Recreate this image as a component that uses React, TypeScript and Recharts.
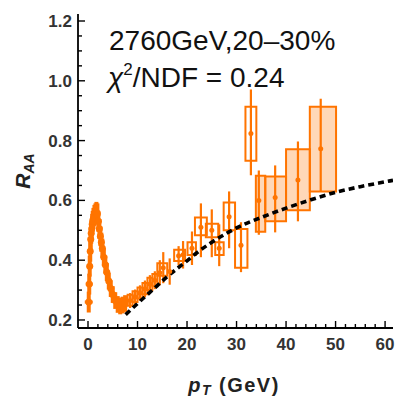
import {
  ComposedChart,
  Line,
  Scatter,
  ErrorBar,
  XAxis,
  YAxis,
  ReferenceArea,
} from "recharts";

const ORANGE = "#ff7400";
const FONT = "'Liberation Sans', Arial, sans-serif";

// axis ticks (major + minor)
const X_TICKS = [0, 2, 4, 6, 8, 10, 12, 14, 16, 18, 20, 22, 24, 26, 28, 30, 32, 34, 36, 38, 40, 42, 44, 46, 48, 50, 52, 54, 56, 58, 60];
const Y_TICKS = [0.2, 0.25, 0.3, 0.35, 0.4, 0.45, 0.5, 0.55, 0.6, 0.65, 0.7, 0.75, 0.8, 0.85, 0.9, 0.95, 1.0, 1.05, 1.1, 1.15, 1.2];

// model curve (dashed)
const modelPt = [7.6, 10, 12, 14, 16, 18, 20, 22, 25, 28, 30, 35, 40, 45, 50, 55, 60, 61.6];
const modelRaa = [0.218, 0.255, 0.285, 0.315, 0.345, 0.372, 0.398, 0.425, 0.46, 0.49, 0.508, 0.543, 0.574, 0.602, 0.627, 0.646, 0.662, 0.667];

// low pT measurements
const lowPt = [0.15, 0.25, 0.35, 0.45, 0.55, 0.65, 0.75, 0.85, 0.95, 1.1, 1.3, 1.5, 1.7, 1.9, 2.1, 2.3, 2.5, 2.7, 2.9, 3.2, 3.5, 3.8, 4.2, 4.6, 5.0, 5.5, 6.0, 6.5, 7.0, 7.5];
const lowRaa = [0.26, 0.32, 0.38, 0.43, 0.47, 0.49, 0.505, 0.52, 0.53, 0.54, 0.55, 0.555, 0.56, 0.555, 0.53, 0.505, 0.48, 0.46, 0.44, 0.41, 0.385, 0.36, 0.33, 0.305, 0.285, 0.265, 0.252, 0.247, 0.25, 0.255];
const lowErr = [0.035, 0.035, 0.035, 0.035, 0.035, 0.035, 0.035, 0.035, 0.035, 0.035, 0.035, 0.035, 0.035, 0.035, 0.035, 0.033, 0.033, 0.032, 0.032, 0.03, 0.03, 0.03, 0.028, 0.028, 0.028, 0.028, 0.028, 0.028, 0.028, 0.028];
const lowBinHalf = [0.8, 0.7, 0.6, 0.5, 0.4, 0.4, 0.3, 0.3, 0.3, 0.3, 0.3, 0.3, 0.3, 0.3, 0.3, 0.3, 0.3, 0.3, 0.3, 0.4, 0.4, 0.4, 0.4, 0.4, 0.5, 0.5, 0.5, 0.5, 0.5, 0.5];

// intermediate pT measurements
const midPt = [8.5, 9.5, 10.5, 11.5, 12.5, 13.5, 14.5, 15.2, 16.5, 18.3, 19.2, 21.0];
const midRaa = [0.265, 0.277, 0.29, 0.304, 0.32, 0.333, 0.358, 0.375, 0.362, 0.415, 0.418, 0.44];
const midErr = [0.025, 0.025, 0.026, 0.028, 0.03, 0.03, 0.042, 0.052, 0.044, 0.032, 0.046, 0.056];
const midBinLo = [8, 9, 10, 11, 12, 13, 14, 17.4, 20.1];
const midBinHi = [9, 10, 11, 12, 13, 14, 16, 19.6, 21.8];
const midSysLo = [0.248, 0.26, 0.272, 0.286, 0.3, 0.313, 0.348, 0.397, 0.417];
const midSysHi = [0.284, 0.296, 0.309, 0.324, 0.341, 0.354, 0.39, 0.435, 0.46];

// high pT, open systematic boxes
const hiPt = [22.8, 25.0, 26.5, 28.5, 30.9, 32.9];
const hiRaa = [0.51, 0.5, 0.44, 0.545, 0.45, 0.824];
const hiErrLo = [0.1, 0.09, 0.06, 0.105, 0.09, 0.14];
const hiErrHi = [0.08, 0.07, 0.08, 0.085, 0.077, 0.147];
const hiBinLo = [21.6, 23.8, 25.7, 27.4, 29.7, 31.8];
const hiBinHi = [24.0, 26.3, 27.4, 29.7, 32.2, 34.0];
const hiSysLo = [0.483, 0.477, 0.417, 0.5, 0.375, 0.733];
const hiSysHi = [0.543, 0.522, 0.46, 0.593, 0.504, 0.913];

// highest pT, filled systematic boxes
const topPt = [34.5, 37.8, 42.4, 47.0];
const topRaa = [0.6, 0.61, 0.668, 0.773];
const topErrLo = [0.115, 0.117, 0.138, 0.145];
const topErrHi = [0.1, 0.107, 0.129, 0.167];
const topBinLo = [33.9, 35.8, 40.0, 44.8];
const topBinHi = [35.8, 40.0, 44.8, 50.1];
const topSysLo = [0.495, 0.53, 0.567, 0.63];
const topSysHi = [0.682, 0.68, 0.771, 0.913];

const modelData = modelPt.map((pt, i) => ({ pt, raa: modelRaa[i] }));
const lowData = lowPt.map((pt, i) => ({ pt, raa: lowRaa[i], err: lowErr[i], xerr: lowBinHalf[i] }));
const midData = midPt.map((pt, i) => ({ pt, raa: midRaa[i], err: midErr[i] }));
const hiData = hiPt.map((pt, i) => ({ pt, raa: hiRaa[i], err: [hiErrLo[i], hiErrHi[i]] }));
const topData = topPt.map((pt, i) => ({ pt, raa: topRaa[i], err: [topErrLo[i], topErrHi[i]] }));

const W = 389;
const H = 389;

const isMajorX = (v: number) => v % 10 === 0;
const isMajorY = (v: number) => Math.abs(v * 5 - Math.round(v * 5)) < 1e-6;

function BottomTick(props: any) {
  const { x, y, payload } = props;
  const v = payload.value;
  const major = isMajorX(v);
  return (
    <g>
      <line x1={x} x2={x} y1={y} y2={y - (major ? 7 : 4)} stroke="#000" strokeWidth={1.4} />
      {major && (
        <text x={x} y={y + 22} textAnchor="middle" fontSize={17} fontWeight="bold" fontFamily={FONT} fill="#333">
          {v}
        </text>
      )}
    </g>
  );
}

function TopTick(props: any) {
  const { x, y, payload } = props;
  const major = isMajorX(payload.value);
  return <line x1={x} x2={x} y1={y} y2={y + (major ? 7 : 4)} stroke="#000" strokeWidth={1.4} />;
}

function LeftTick(props: any) {
  const { x, y, payload } = props;
  const v = payload.value;
  const major = isMajorY(v);
  return (
    <g>
      <line x1={x} x2={x + (major ? 7 : 4)} y1={y} y2={y} stroke="#000" strokeWidth={1.4} />
      {major && (
        <text x={x - 6} y={y + 6} textAnchor="end" fontSize={17} fontWeight="bold" fontFamily={FONT} fill="#333">
          {v.toFixed(1)}
        </text>
      )}
    </g>
  );
}

function RightTick(props: any) {
  const { x, y, payload } = props;
  const major = isMajorY(payload.value);
  return <line x1={x} x2={x - (major ? 7 : 4)} y1={y} y2={y} stroke="#000" strokeWidth={1.4} />;
}

const dot = (r: number) => (p: any) => <circle cx={p.cx} cy={p.cy} r={r} fill={ORANGE} />;

export default function App() {
  const frame = { stroke: "#000", strokeWidth: 1.8 };
  const xDomain: [number, number] = [-2.02, 61.6];
  const yDomain: [number, number] = [0.1732, 1.2234];

  return (
    <div style={{ position: "relative", width: 397, height: 397 }}>
      <style>{"body { margin: 0; }"}</style>
      <div style={{ position: "absolute", left: 8, top: 8, width: W, height: H }}>
        <ComposedChart width={W} height={H} margin={{ top: 6, right: 4, left: 0, bottom: 0 }}>
          <XAxis
            dataKey="pt"
            type="number"
            domain={xDomain}
            ticks={X_TICKS}
            interval={0}
            height={69}
            tickSize={0}
            tickMargin={0}
            tickLine={false}
            axisLine={frame}
            tick={BottomTick}
            allowDataOverflow
          />
          <XAxis
            xAxisId="top"
            orientation="top"
            dataKey="pt"
            type="number"
            domain={xDomain}
            ticks={X_TICKS}
            interval={0}
            height={0}
            tickSize={0}
            tickMargin={0}
            tickLine={false}
            axisLine={frame}
            tick={TopTick}
            allowDataOverflow
          />
          <YAxis
            type="number"
            domain={yDomain}
            ticks={Y_TICKS}
            interval={0}
            width={70}
            tickSize={0}
            tickMargin={0}
            tickLine={false}
            axisLine={frame}
            tick={LeftTick}
            allowDataOverflow
          />
          <YAxis
            yAxisId="right"
            orientation="right"
            type="number"
            domain={yDomain}
            ticks={Y_TICKS}
            interval={0}
            width={0}
            tickSize={0}
            tickMargin={0}
            tickLine={false}
            axisLine={frame}
            tick={RightTick}
            allowDataOverflow
          />

          {topPt.map((_, i) => (
            <ReferenceArea
              key={`top-${i}`}
              x1={topBinLo[i]}
              x2={topBinHi[i]}
              y1={topSysLo[i]}
              y2={topSysHi[i]}
              fill={ORANGE}
              fillOpacity={0.28}
              stroke={ORANGE}
              strokeWidth={2}
              strokeOpacity={1}
            />
          ))}
          {hiPt.map((_, i) => (
            <ReferenceArea
              key={`hi-${i}`}
              x1={hiBinLo[i]}
              x2={hiBinHi[i]}
              y1={hiSysLo[i]}
              y2={hiSysHi[i]}
              fill="#fff"
              fillOpacity={0}
              stroke={ORANGE}
              strokeWidth={2}
              strokeOpacity={1}
            />
          ))}
          {midBinLo.map((_, i) => (
            <ReferenceArea
              key={`mid-${i}`}
              x1={midBinLo[i]}
              x2={midBinHi[i]}
              y1={midSysLo[i]}
              y2={midSysHi[i]}
              fill="#fff"
              fillOpacity={0}
              stroke={ORANGE}
              strokeWidth={2}
              strokeOpacity={1}
            />
          ))}

          <Scatter data={lowData} dataKey="raa" shape={dot(3.5)} isAnimationActive={false}>
            <ErrorBar dataKey="err" direction="y" width={0} stroke={ORANGE} strokeWidth={4} />
            <ErrorBar dataKey="xerr" direction="x" width={0} stroke={ORANGE} strokeWidth={3} />
          </Scatter>
          <Scatter data={midData} dataKey="raa" shape={dot(2.5)} isAnimationActive={false}>
            <ErrorBar dataKey="err" direction="y" width={0} stroke={ORANGE} strokeWidth={2.2} />
          </Scatter>
          <Scatter data={hiData} dataKey="raa" shape={dot(2.5)} isAnimationActive={false}>
            <ErrorBar dataKey="err" direction="y" width={0} stroke={ORANGE} strokeWidth={2.2} />
          </Scatter>
          <Scatter data={topData} dataKey="raa" shape={dot(2.5)} isAnimationActive={false}>
            <ErrorBar dataKey="err" direction="y" width={0} stroke={ORANGE} strokeWidth={2.2} />
          </Scatter>

          <Line
            data={modelData}
            dataKey="raa"
            type="monotone"
            stroke="#000"
            strokeWidth={3.6}
            strokeDasharray="6 4"
            dot={false}
            isAnimationActive={false}
          />
        </ComposedChart>

        <svg
          width={W}
          height={H}
          style={{ position: "absolute", left: 0, top: 0, pointerEvents: "none" }}
          fontFamily={FONT}
        >
          <text x={101} y={42} fontSize={28} fill="#111">
            2760GeV,20–30%
          </text>
          <text x={100} y={79} fontSize={28} fill="#111">
            <tspan fontStyle="italic">χ</tspan>
            <tspan fontSize={17} dy={-12}>2</tspan>
            <tspan dy={12}>/NDF = 0.24</tspan>
          </text>
          <text
            transform="rotate(-90)"
            x={-163}
            y={22}
            textAnchor="middle"
            fontSize={21}
            fontWeight="bold"
            fontStyle="italic"
            fill="#222"
          >
            R<tspan fontSize={14} dy={4}>AA</tspan>
          </text>
          <text x={226} y={384} textAnchor="middle" fontSize={20} fontWeight="bold" fill="#222" letterSpacing={1.5}>
            <tspan fontStyle="italic">p</tspan>
            <tspan fontStyle="italic" fontSize={14} dy={3}>T</tspan>
            <tspan dy={-3}> (GeV)</tspan>
          </text>
        </svg>
      </div>
    </div>
  );
}
